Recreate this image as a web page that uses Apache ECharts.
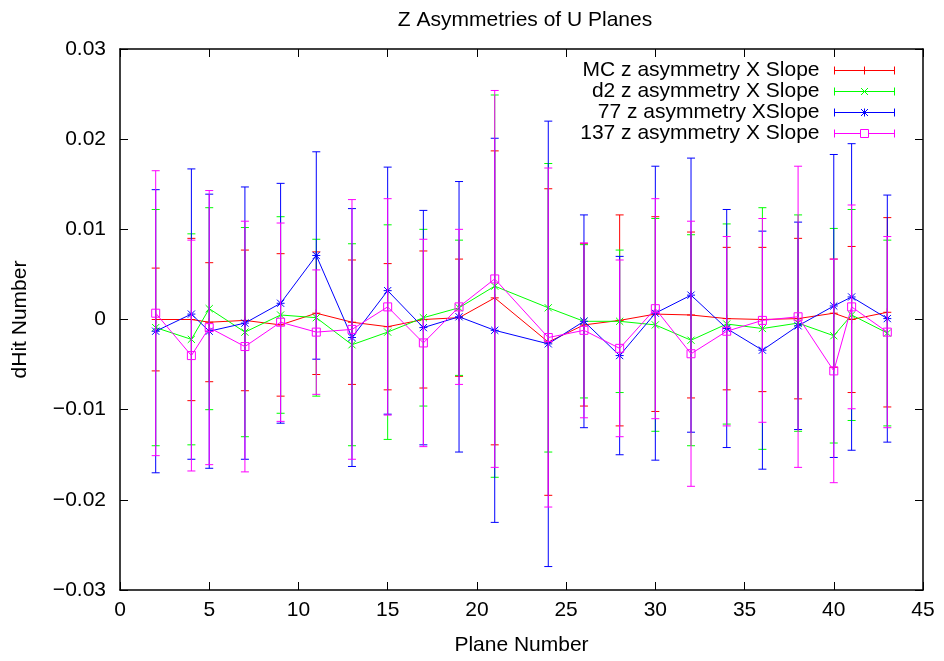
<!DOCTYPE html>
<html>
<head>
<meta charset="utf-8">
<script src="https://cdn.jsdelivr.net/npm/echarts@6/dist/echarts.min.js"></script>
<style>
html,body{margin:0;padding:0;background:#fff;}
#chart{width:944px;height:661px;}
</style>
</head>
<body>
<div id="chart"></div>
<script>
// ---- data ----
var planes = [2, 4, 5, 7, 9, 11, 13, 15, 17, 19, 21, 24, 26, 28, 30, 32, 34, 36, 38, 40, 41, 43];

var mcValues = [0, 0, -0.0003, -0.0001, -0.0006, 0.0007, -0.0003, -0.0008, 0, 0.0002, 0.0024, -0.0025, -0.0006, -0.0001, 0.0006, 0.0005, 0.0001, 0, 0.0001, 0.0007, 0, 0.0008];
var mcErrors = [0.0057, 0.009, 0.0066, 0.0078, 0.0079, 0.0068, 0.0069, 0.007, 0.0076, 0.0065, 0.0163, 0.017, 0.009, 0.0117, 0.0108, 0.0092, 0.0079, 0.008, 0.0089, 0.006, 0.0081, 0.0105];

var d2Values = [-0.0009, -0.0022, 0.0012, -0.0014, 0.0005, 0.0002, -0.0028, -0.0014, 0.0002, 0.0013, 0.0037, 0.0013, -0.0002, -0.0002, -0.0006, -0.0023, -0.0005, -0.001, -0.0004, -0.0018, 0.0005, -0.0015];
var d2Errors = [0.0131, 0.0117, 0.0112, 0.0116, 0.0109, 0.0087, 0.0112, 0.0119, 0.0098, 0.0075, 0.0212, 0.016, 0.0085, 0.0079, 0.0118, 0.0117, 0.0111, 0.0134, 0.012, 0.0119, 0.0117, 0.0103];

var r77Values = [-0.0013, 0.0006, -0.0013, -0.0004, 0.0018, 0.0071, -0.002, 0.0032, -0.0009, 0.0003, -0.0012, -0.0027, -0.0002, -0.004, 0.0007, 0.0027, -0.001, -0.0034, -0.0007, 0.0015, 0.0025, 0.0001];
var r77Errors = [0.0157, 0.0161, 0.0152, 0.0151, 0.0133, 0.0115, 0.0143, 0.0137, 0.013, 0.015, 0.0213, 0.0247, 0.0118, 0.011, 0.0163, 0.0152, 0.0132, 0.0132, 0.0115, 0.0168, 0.017, 0.0137];

var r137Values = [0.0007, -0.004, -0.0009, -0.003, -0.0003, -0.0014, -0.0011, 0.0014, -0.0026, 0.0014, 0.0045, -0.002, -0.0012, -0.0032, 0.0012, -0.0038, -0.0013, -0.0001, 0.0003, -0.0057, 0.0014, -0.0014];
var r137Errors = [0.0158, 0.0128, 0.0152, 0.0139, 0.011, 0.0069, 0.0144, 0.012, 0.0115, 0.0086, 0.0209, 0.0188, 0.0097, 0.0098, 0.0122, 0.0147, 0.0105, 0.0113, 0.0167, 0.0124, 0.0113, 0.0106];

var seriesNames = ['MC z asymmetry X Slope', 'd2 z asymmetry X Slope', '77 z asymmetry XSlope', '137 z asymmetry X Slope'];
var xTicks = [0, 45, 5];
var yTicks = [-0.03, 0.03, 0.01];
var titleText = 'Z Asymmetries of U Planes';
var xName = 'Plane Number';
var yName = 'dHit Number';

// ---- styling ----
var colors = ['#ff0000', '#00ff00', '#0000ff', '#ff00ff'];
var markers = ['plus', 'cross', 'star', 'square'];
var FONT = 'Liberation Sans, Arial, Helvetica, sans-serif';
var FS = 21;

function rows(vals, errs) {
  return planes.map(function (p, i) { return [p, vals[i], errs[i]]; });
}

function markerShapes(kind, cx, cy, c) {
  var st = {stroke: c, lineWidth: 1, fill: 'none'};
  var out = [];
  function ln(x1, y1, x2, y2) { out.push({type: 'line', shape: {x1: x1, y1: y1, x2: x2, y2: y2}, style: st}); }
  var r = 4;
  if (kind === 'plus' || kind === 'star') { ln(cx - r, cy, cx + r, cy); ln(cx, cy - r, cx, cy + r); }
  if (kind === 'cross' || kind === 'star') { var d = 3.6; ln(cx - d, cy - d, cx + d, cy + d); ln(cx - d, cy + d, cx + d, cy - d); }
  if (kind === 'square') { out.push({type: 'rect', shape: {x: cx - 4, y: cy - 4, width: 8, height: 8}, style: st}); }
  return out;
}

function makeRender(kind, c) {
  return function (params, api) {
    var x = api.value(0), y = api.value(1), e = api.value(2);
    var p = api.coord([x, y]);
    var t = api.coord([x, y + e]);
    var b = api.coord([x, y - e]);
    var st = {stroke: c, lineWidth: 1, fill: 'none'};
    var cap = 4;
    var ch = [
      {type: 'line', shape: {x1: t[0], y1: t[1], x2: b[0], y2: b[1]}, style: st},
      {type: 'line', shape: {x1: t[0] - cap, y1: t[1], x2: t[0] + cap, y2: t[1]}, style: st},
      {type: 'line', shape: {x1: b[0] - cap, y1: b[1], x2: b[0] + cap, y2: b[1]}, style: st}
    ];
    var idx = params.dataIndexInside;
    if (idx > 0) {
      var q = api.coord([api.value(0, idx - 1), api.value(1, idx - 1)]);
      ch.push({type: 'line', shape: {x1: q[0], y1: q[1], x2: p[0], y2: p[1]}, style: st});
    }
    ch = ch.concat(markerShapes(kind, p[0], p[1], c));
    return {type: 'group', children: ch};
  };
}

var legendIcons = {
  plus: 'path://M0 0V8M0 4H60M60 0V8M30 0V8',
  cross: 'path://M0 0V8M0 4H60M60 0V8M26.5 0.5L33.5 7.5M26.5 7.5L33.5 0.5',
  star: 'path://M0 0V8M0 4H60M60 0V8M30 0V8M26.5 0.5L33.5 7.5M26.5 7.5L33.5 0.5',
  square: 'path://M0 0V8M0 4H26M34 4H60M60 0V8M26 0H34V8H26Z'
};

var datasets = [rows(mcValues, mcErrors), rows(d2Values, d2Errors), rows(r77Values, r77Errors), rows(r137Values, r137Errors)];

var series = datasets.map(function (d, i) {
  return {
    type: 'custom',
    name: seriesNames[i],
    coordinateSystem: 'cartesian2d',
    xAxisIndex: 0, yAxisIndex: 0,
    encode: {x: 0, y: 1},
    itemStyle: {color: colors[i]},
    renderItem: makeRender(markers[i], colors[i]),
    data: d,
    silent: true,
    animation: false
  };
});

function yFmt(v) {
  if (Math.abs(v) < 1e-9) return '0';
  return (v < 0 ? '\u2212' : '') + Math.abs(v).toFixed(2);
}

var axisLine = {show: true, onZero: false, lineStyle: {color: '#000', width: 1.5}};
var tickStyle = {show: true, inside: true, length: 8, lineStyle: {color: '#000', width: 1}};

var option = {
  animation: false,
  backgroundColor: '#fff',
  title: {
    text: titleText, left: 520, top: 5, textAlign: 'center',
    textStyle: {fontFamily: FONT, fontSize: FS, fontWeight: 'normal', color: '#000'}
  },
  grid: {left: 120, right: 21, top: 49, bottom: 67, containLabel: false},
  legend: {
    orient: 'vertical', right: 47, top: 60, padding: 0, itemGap: 0, align: 'right',
    itemWidth: 60, itemHeight: 8,
    textStyle: {fontFamily: FONT, fontSize: FS, color: '#000', lineHeight: 21, padding: [0, 10, 0, 0]},
    selectedMode: false,
    data: seriesNames.map(function (n, i) {
      return {name: n, icon: legendIcons[markers[i]], itemStyle: {color: 'none', borderColor: colors[i], borderWidth: 1, opacity: 1}};
    })
  },
  xAxis: [{
    type: 'value', min: xTicks[0], max: xTicks[1], interval: xTicks[2], position: 'bottom',
    name: xName, nameLocation: 'middle', nameGap: 45,
    nameTextStyle: {fontFamily: FONT, fontSize: FS, color: '#000'},
    axisLine: axisLine, axisTick: tickStyle, splitLine: {show: false},
    axisLabel: {fontFamily: FONT, fontSize: FS, color: '#000', margin: 10}
  }, {
    type: 'value', min: xTicks[0], max: xTicks[1], interval: xTicks[2], position: 'top',
    axisLine: axisLine, axisTick: tickStyle, splitLine: {show: false}, axisLabel: {show: false}
  }],
  yAxis: [{
    type: 'value', min: yTicks[0], max: yTicks[1], interval: yTicks[2], position: 'left',
    name: yName, nameLocation: 'middle', nameGap: 89, nameRotate: 90,
    nameTextStyle: {fontFamily: FONT, fontSize: FS, color: '#000'},
    axisLine: axisLine, axisTick: tickStyle, splitLine: {show: false},
    axisLabel: {fontFamily: FONT, fontSize: FS, color: '#000', margin: 14, formatter: yFmt}
  }, {
    type: 'value', min: yTicks[0], max: yTicks[1], interval: yTicks[2], position: 'right',
    axisLine: axisLine, axisTick: tickStyle, splitLine: {show: false}, axisLabel: {show: false}
  }],
  series: series
};

var chart = echarts.init(document.getElementById('chart'), null, {renderer: 'canvas'});
chart.setOption(option);
</script>
</body>
</html>
